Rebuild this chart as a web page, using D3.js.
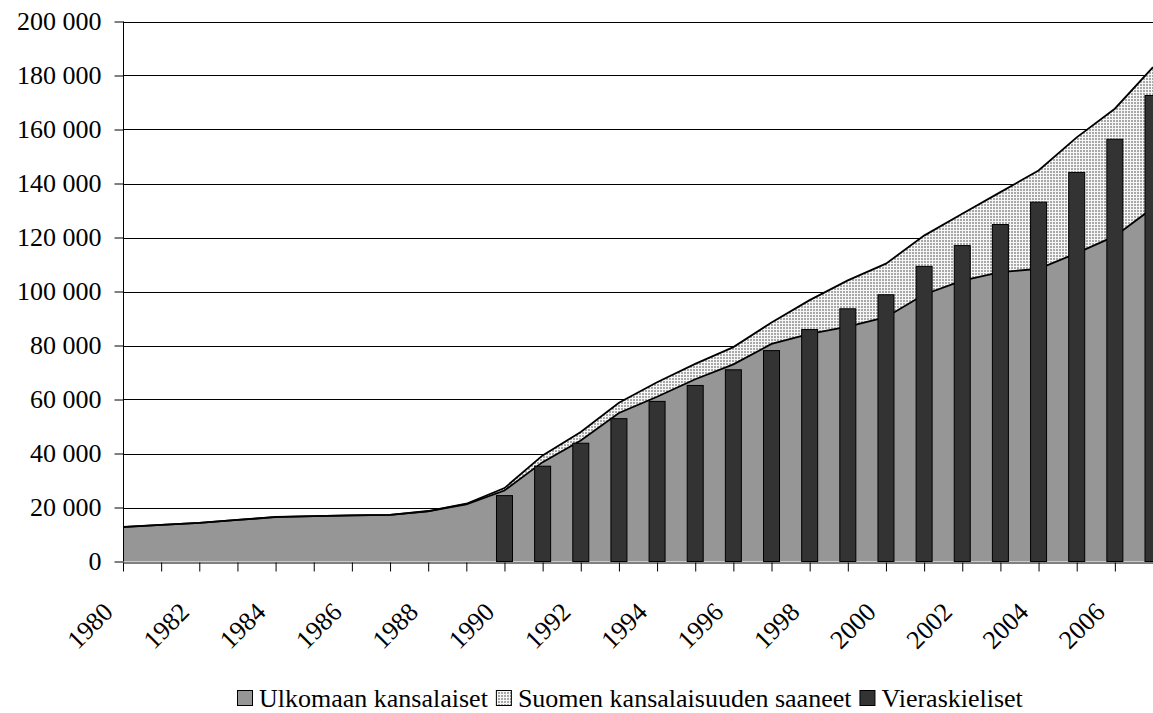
<!DOCTYPE html>
<html>
<head>
    <meta charset="utf-8">
    <title>Ulkomaan kansalaiset ja vieraskieliset 1980-2007</title>
    <script src="https://d3js.org/d3.v7.min.js"></script>
    <style>
        body { margin: 0; background: #fff; }
        svg { display: block; font-family: "Liberation Serif", "Tinos", "Times New Roman", serif; }
    </style>
</head>
<body>
    <div id="chart"></div>
    <script>
        // vuodet
        var years = [1980, 1981, 1982, 1983, 1984, 1985, 1986, 1987, 1988, 1989,
                     1990, 1991, 1992, 1993, 1994, 1995, 1996, 1997, 1998, 1999,
                     2000, 2001, 2002, 2003, 2004, 2005, 2006, 2007];

        // Ulkomaan kansalaiset (area, bottom)
        var ulkomaan = [12700, 13600, 14300, 15400, 16400, 16800, 17100, 17300, 18600, 21200,
                        26300, 36800, 44800, 55000, 61000, 67500, 73000, 80600, 84300, 87000,
                        90500, 98900, 104000, 107200, 108400, 114200, 120500, 131000];

        // Suomen kansalaisuuden saaneet (area, stacked on top)
        var saaneet = [100, 0, 0, 0, 100, 0, 0, 0, 100, 200,
                       900, 2500, 3200, 3800, 5400, 5700, 6400, 7900, 12500, 17100,
                       19800, 21800, 24800, 29600, 36400, 42900, 47200, 52100];

        // Vieraskieliset (columns, 1990 ->)
        var barYears = [1990, 1991, 1992, 1993, 1994, 1995, 1996, 1997, 1998,
                        1999, 2000, 2001, 2002, 2003, 2004, 2005, 2006, 2007];
        var vieraskieliset = [24400, 35300, 43800, 52900, 59300, 65200, 71000, 78100, 85900,
                              93600, 98800, 109300, 117000, 124800, 133100, 144100, 156400, 172600];

        var yTicks = [0, 20000, 40000, 60000, 80000, 100000, 120000, 140000, 160000, 180000, 200000];
        var legendLabels = ["Ulkomaan kansalaiset", "Suomen kansalaisuuden saaneet", "Vieraskieliset"];

        var W = 1153, H = 713;
        var fontSize = 26;
        var serif = "'Liberation Serif', 'Tinos', 'Times New Roman', serif";

        var svg = d3.select("#chart").append("svg")
            .attr("width", W)
            .attr("height", H);

        // dotted fill for the naturalised citizens
        var pat = svg.append("defs").append("pattern")
            .attr("id", "dots")
            .attr("width", 3)
            .attr("height", 3)
            .attr("patternUnits", "userSpaceOnUse");
        pat.append("rect").attr("width", 3).attr("height", 3).attr("fill", "#f6f6f6");
        pat.append("rect").attr("width", 2).attr("height", 2).attr("fill", "#a8a8a8");

        var x = d3.scalePoint()
            .domain(years)
            .range([123, 1153]);

        var y = d3.scaleLinear()
            .domain([0, 200000])
            .range([561.5, 21.5]);

        var bw = 16;

        // gridlines
        svg.append("g")
            .selectAll("line")
            .data(yTicks.slice(1))
            .enter()
            .append("line")
                .attr("x1", 123)
                .attr("x2", W)
                .attr("y1", function(d) { return Math.round(y(d)) + 0.5; })
                .attr("y2", function(d) { return Math.round(y(d)) + 0.5; })
                .attr("stroke", "#000")
                .attr("stroke-width", 1);

        var stackData = years.map(function(yr, i) {
            return { year: yr, u: ulkomaan[i], s: saaneet[i] };
        });

        var areaBottom = d3.area()
            .x(function(d) { return x(d.year); })
            .y0(y(0))
            .y1(function(d) { return y(d.u); });

        var areaTop = d3.area()
            .x(function(d) { return x(d.year); })
            .y0(function(d) { return y(d.u); })
            .y1(function(d) { return y(d.u + d.s); });

        svg.append("path")
            .datum(stackData)
            .attr("d", areaTop)
            .attr("fill", "url(#dots)");

        svg.append("path")
            .datum(stackData)
            .attr("d", areaBottom)
            .attr("fill", "#969696");

        var lineBottom = d3.line()
            .x(function(d) { return x(d.year); })
            .y(function(d) { return y(d.u); });
        var lineTop = d3.line()
            .x(function(d) { return x(d.year); })
            .y(function(d) { return y(d.u + d.s); });

        svg.append("path")
            .datum(stackData)
            .attr("d", lineBottom)
            .attr("fill", "none")
            .attr("stroke", "#000")
            .attr("stroke-width", 1.8);

        svg.append("path")
            .datum(stackData)
            .attr("d", lineTop)
            .attr("fill", "none")
            .attr("stroke", "#000")
            .attr("stroke-width", 1.8);

        // columns
        svg.append("g")
            .selectAll("rect")
            .data(barYears)
            .enter()
            .append("rect")
                .attr("x", function(d) { return x(d) - bw / 2; })
                .attr("y", function(d, i) { return y(vieraskieliset[i]); })
                .attr("width", bw)
                .attr("height", function(d, i) { return y(0) - y(vieraskieliset[i]); })
                .attr("fill", "#333333")
                .attr("stroke", "#000")
                .attr("stroke-width", 1);

        // y axis
        var yAxis = svg.append("g")
            .attr("transform", "translate(123.5,0)")
            .call(d3.axisLeft(y)
                .tickValues(yTicks)
                .tickSize(9)
                .tickPadding(13)
                .tickFormat(function(d) { return d3.format(",")(d).replace(/,/g, " "); }));
        yAxis.attr("font-family", serif);
        yAxis.select(".domain").attr("stroke", "#000").attr("d", "M0," + y(200000) + "V" + y(0));
        yAxis.selectAll("text")
            .style("font-size", fontSize + "px")
            .attr("fill", "#000");

        // x axis
        var xAxis = svg.append("g")
            .attr("transform", "translate(0," + (Math.round(y(0)) + 0.5) + ")")
            .call(d3.axisBottom(x)
                .tickSize(9)
                .tickSizeOuter(0)
                .tickFormat(function(d) { return d % 2 === 0 ? d : ""; }));
        xAxis.attr("font-family", serif);
        xAxis.select(".domain").attr("stroke", "#000");
        xAxis.selectAll("text")
            .style("font-size", fontSize + "px")
            .attr("fill", "#000")
            .attr("text-anchor", "end")
            .attr("dy", 0)
            .attr("y", 0)
            .attr("transform", "translate(-9,51) rotate(-45)");

        // legend
        var legendFills = ["#969696", "url(#dots)", "#333333"];
        var legend = svg.append("g").attr("transform", "translate(0,707)");
        var lx = 237;
        legendLabels.forEach(function(lab, i) {
            legend.append("rect")
                .attr("x", lx + 0.5)
                .attr("y", -16.5)
                .attr("width", 15)
                .attr("height", 15)
                .attr("fill", legendFills[i])
                .attr("stroke", "#000")
                .attr("stroke-width", 1);
            var t = legend.append("text")
                .attr("x", lx + 22)
                .attr("y", 0)
                .style("font-size", fontSize + "px")
                .text(lab);
            lx = lx + 22 + t.node().getComputedTextLength() + 8;
        });
    </script>
</body>
</html>
